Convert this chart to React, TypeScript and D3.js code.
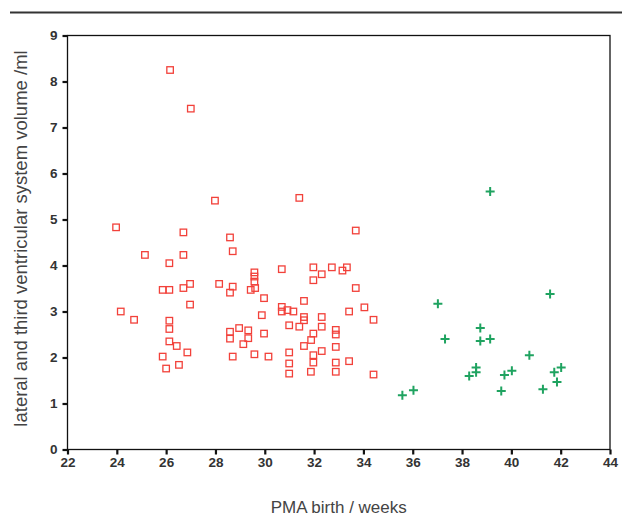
import { useEffect, useRef } from "react";
import * as d3 from "d3";

// preterm group (red squares)
const pretermPma = [
  26.16, 27.0, 27.98, 31.4, 33.69,
  23.97, 26.7, 28.59, 28.7, 25.14, 26.7, 26.13, 25.86, 26.13, 26.7, 26.97, 28.15, 28.7, 28.59,
  26.97, 24.16, 24.7, 26.13, 26.13, 28.59, 28.59, 28.96, 26.13, 26.43, 26.86, 25.86, 28.7,
  26.52, 26.0,
  30.69, 31.97, 32.72, 33.33, 33.15, 32.31, 31.97, 29.58, 29.58, 29.58, 29.61, 29.43, 33.69,
  29.97, 31.59, 34.04, 33.42, 30.69, 30.69, 30.92, 31.16, 29.88, 32.31, 31.59, 31.59, 34.41,
  30.99, 31.4, 32.31, 29.33, 29.33, 29.13, 29.97, 31.97, 32.88, 32.88, 31.88, 31.59, 32.31,
  32.88, 30.99, 31.97, 31.97, 33.42, 32.88, 29.58, 30.15, 30.99, 30.99, 31.87, 32.88, 34.41,
];
const pretermVol = [
  8.25, 7.41, 5.41, 5.47, 4.76,
  4.83, 4.72, 4.61, 4.31, 4.23, 4.23, 4.05, 3.47, 3.47, 3.51, 3.6, 3.6, 3.54, 3.41,
  3.15, 3.0, 2.82, 2.8, 2.62, 2.56, 2.41, 2.64, 2.35, 2.25, 2.11, 2.02, 2.02,
  1.84, 1.76,
  3.92, 3.96, 3.96, 3.96, 3.89, 3.81, 3.68, 3.85, 3.76, 3.65, 3.51, 3.47, 3.51,
  3.29, 3.23, 3.09, 3.0, 3.1, 3.0, 3.03, 3.0, 2.92, 2.88, 2.88, 2.81, 2.82,
  2.7, 2.67, 2.67, 2.59, 2.42, 2.29, 2.52, 2.52, 2.6, 2.5, 2.38, 2.25, 2.14,
  2.23, 2.11, 2.05, 1.89, 1.92, 1.89, 2.07, 2.02, 1.87, 1.65, 1.69, 1.69, 1.63,
];

// term group (green crosses)
const termPma = [
  39.14, 41.57, 37.02, 38.74, 37.31, 38.74, 39.14, 40.73, 38.57, 38.57,
  38.29, 40.02, 39.72, 42.02, 41.74, 41.85, 41.28, 39.59, 36.03, 35.58,
];
const termVol = [
  5.61, 3.38, 3.17, 2.64, 2.4, 2.36, 2.4, 2.05, 1.78, 1.68,
  1.6, 1.71, 1.62, 1.78, 1.68, 1.47, 1.31, 1.27, 1.29, 1.18,
];

const xTicks = [22, 24, 26, 28, 30, 32, 34, 36, 38, 40, 42, 44];
const yTicks = [0, 1, 2, 3, 4, 5, 6, 7, 8, 9];

const W = 622;
const H = 519;
const margin = { top: 35.5, right: 12, bottom: 70, left: 67.5 };
const font = "'Liberation Sans', Arial, sans-serif";

export default function App() {
  const ref = useRef<SVGSVGElement>(null);

  useEffect(() => {
    const svg = d3.select(ref.current);
    svg.selectAll("*").remove();

    const x = d3.scaleLinear().domain([22, 44]).range([margin.left, W - margin.right]);
    const y = d3.scaleLinear().domain([0, 9]).range([H - margin.bottom + 0.5, margin.top]);

    svg.append("rect").attr("width", W).attr("height", H).attr("fill", "#fff");

    // rule at the top of the figure
    svg
      .append("line")
      .attr("x1", 10)
      .attr("x2", W)
      .attr("y1", 12.5)
      .attr("y2", 12.5)
      .attr("stroke", "#333")
      .attr("stroke-width", 2);

    // plot frame
    svg
      .append("rect")
      .attr("x", x(22))
      .attr("y", y(9))
      .attr("width", x(44) - x(22))
      .attr("height", y(0) - y(9))
      .attr("fill", "none")
      .attr("stroke", "#111")
      .attr("stroke-width", 1.3);

    // y axis
    const yAxis = svg
      .append("g")
      .attr("transform", `translate(${x(22)},0)`)
      .call(d3.axisLeft(y).tickValues(yTicks).tickSize(5).tickPadding(5));
    yAxis.select(".domain").remove();
    yAxis.selectAll("line").attr("stroke", "#111").attr("stroke-width", 2.2);
    yAxis
      .selectAll("text")
      .attr("font-family", font)
      .attr("font-size", 13.5)
      .attr("font-weight", "bold")
      .attr("fill", "#333");

    // x axis
    const xAxis = svg
      .append("g")
      .attr("transform", `translate(0,${y(0)})`)
      .call(d3.axisBottom(x).tickValues(xTicks).tickSize(5).tickPadding(3));
    xAxis.select(".domain").remove();
    xAxis.selectAll("line").attr("stroke", "#111").attr("stroke-width", 2.2);
    xAxis
      .selectAll("text")
      .attr("font-family", font)
      .attr("font-size", 13.5)
      .attr("font-weight", "bold")
      .attr("fill", "#333");

    // axis titles
    svg
      .append("text")
      .text("PMA birth / weeks")
      .attr("x", (x(22) + x(44)) / 2)
      .attr("y", 513)
      .attr("text-anchor", "middle")
      .attr("font-family", font)
      .attr("font-size", 17)
      .attr("fill", "#444");

    svg
      .append("text")
      .text("lateral and third ventricular system volume /ml")
      .attr("transform", `translate(27,${(y(0) + y(9)) / 2 - 4}) rotate(-90)`)
      .attr("text-anchor", "middle")
      .attr("font-family", font)
      .attr("font-size", 18.5)
      .attr("fill", "#444");

    // red squares
    const s = 6.5;
    svg
      .append("g")
      .selectAll("rect")
      .data(d3.range(pretermPma.length))
      .join("rect")
      .attr("x", (i) => x(pretermPma[i]) - s / 2)
      .attr("y", (i) => y(pretermVol[i]) - s / 2)
      .attr("width", s)
      .attr("height", s)
      .attr("fill", "none")
      .attr("stroke", "#f2413a")
      .attr("stroke-width", 1.3);

    // green crosses
    const c = 4.5;
    const cross = d3.path();
    cross.moveTo(-c, 0);
    cross.lineTo(c, 0);
    cross.moveTo(0, -c);
    cross.lineTo(0, c);
    svg
      .append("g")
      .selectAll("path")
      .data(d3.range(termPma.length))
      .join("path")
      .attr("transform", (i) => `translate(${x(termPma[i])},${y(termVol[i])})`)
      .attr("d", cross.toString())
      .attr("stroke", "#1fa360")
      .attr("stroke-width", 2);
  }, []);

  return (
    <svg
      ref={ref}
      width={W}
      height={H}
      style={{ position: "absolute", left: 0, top: 0, display: "block" }}
    />
  );
}
